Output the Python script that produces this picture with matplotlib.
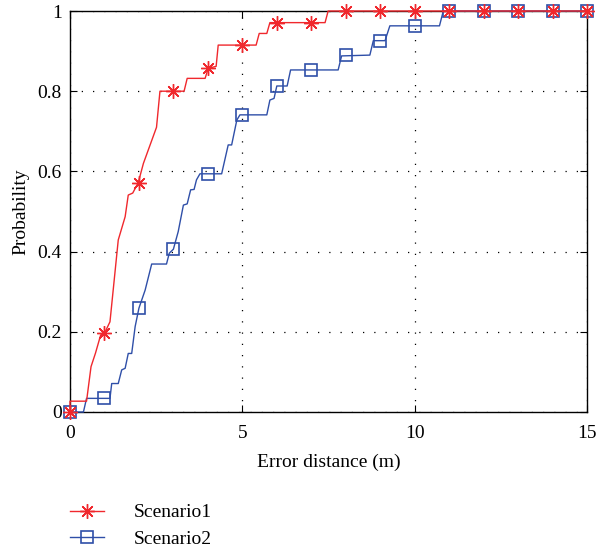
import matplotlib
matplotlib.use("Agg")
import matplotlib.pyplot as plt
import numpy as np

# Scenario 1 CDF polyline
s1_x = [0.0, 0.0, 0.48, 0.61, 0.74, 0.89, 1.01, 1.16, 1.40, 1.60, 1.69, 1.82, 1.98,
        2.13, 2.51, 2.61, 3.31, 3.40, 3.92, 4.01, 4.24, 4.30, 5.40, 5.49, 5.71, 5.80,
        7.40, 7.49, 15.0]
s1_y = [0.0, 0.027, 0.027, 0.113, 0.147, 0.192, 0.198, 0.225, 0.429, 0.487, 0.541, 0.546, 0.572,
        0.62, 0.71, 0.80, 0.80, 0.832, 0.832, 0.857, 0.862, 0.915, 0.915, 0.944, 0.944, 0.971,
        0.971, 1.0, 1.0]

# Scenario 2 CDF polyline
s2_x = [0.0, 0.39, 0.48, 1.16, 1.21, 1.40, 1.50, 1.60, 1.69, 1.79, 1.89, 2.00, 2.18, 2.37,
        2.80, 2.88, 3.00, 3.14, 3.29, 3.40, 3.50, 3.60, 3.67, 3.77, 4.40, 4.59, 4.69, 4.84,
        4.93, 5.71, 5.80, 5.92, 6.00, 6.30, 6.40, 7.78, 7.88, 8.70, 8.80, 9.14, 9.28,
        10.72, 10.83, 15.0]
s2_y = [0.0, 0.0, 0.034, 0.034, 0.071, 0.071, 0.105, 0.109, 0.146, 0.146, 0.213, 0.259, 0.304, 0.369,
        0.369, 0.396, 0.406, 0.45, 0.516, 0.519, 0.554, 0.555, 0.579, 0.594, 0.594, 0.666, 0.666, 0.728,
        0.741, 0.741, 0.778, 0.782, 0.813, 0.813, 0.853, 0.853, 0.888, 0.890, 0.926, 0.926, 0.963,
        0.963, 1.0, 1.0]

# markers at integer distances
mk_x = list(range(16))
s1_mk = [0.0, 0.198, 0.572, 0.80, 0.857, 0.915, 0.971, 0.971, 1, 1, 1, 1, 1, 1, 1, 1]
s2_mk = [0.0, 0.034, 0.259, 0.406, 0.594, 0.741, 0.813, 0.853, 0.890, 0.926, 0.963, 1, 1, 1, 1, 1]

labels = ["Scenario1", "Scenario2"]
red = "#f0282d"
blue = "#2f4fa8"

plt.rcParams['font.family'] = ['Liberation Serif', 'DejaVu Serif']
plt.rcParams['font.size'] = 14

fig = plt.figure(figsize=(6, 5.5), dpi=100)
ax = fig.add_axes([70/600, 1-412/550, 517/600, 401/550])

star = (8, 2, 0)
ax.plot(s2_x, s2_y, color=blue, lw=1.0, clip_on=False, zorder=3)
ax.plot(mk_x, s2_mk, ls='none', marker='s', ms=9, mfc='none', mec=blue, mew=1.2,
        clip_on=False, zorder=4)
ax.plot(s1_x, s1_y, color=red, lw=1.0, clip_on=False, zorder=5)
ax.plot(mk_x, s1_mk, ls='none', marker=star, ms=10.5, mec=red, mew=1.0,
        clip_on=False, zorder=6)

# legend proxies
h1, = ax.plot([], [], color=red, lw=1.0, marker=star, ms=10.5, mec=red, mew=1.0)
h2, = ax.plot([], [], color=blue, lw=1.0, marker='s', ms=9, mfc='none', mec=blue, mew=1.2)
fig.legend([h1, h2], labels, loc='upper left', bbox_to_anchor=(62/600, 1-496/550),
           frameon=False, handlelength=1.75, handletextpad=1.55, labelspacing=0.45,
           fontsize=14, borderaxespad=0.0)

ax.set_xlim(0, 15)
ax.set_ylim(0, 1)
ax.set_xticks([0, 5, 10, 15])
ax.set_yticks([0, 0.2, 0.4, 0.6, 0.8, 1.0])
ax.set_yticklabels(["0", "0.2", "0.4", "0.6", "0.8", "1"])
ax.tick_params(direction='in', length=5, width=0.8, top=True, right=True)
ax.tick_params(axis='x', pad=9)
ax.tick_params(axis='y', pad=6)
ax.grid(True, color='black', linestyle=(0, (1, 8)), linewidth=0.9)
for s in ax.spines.values():
    s.set_linewidth(1.0)
ax.set_xlabel("Error distance (m)", labelpad=9)
ax.set_ylabel("Probability", labelpad=6)

fig.savefig("out.png", dpi=100)
